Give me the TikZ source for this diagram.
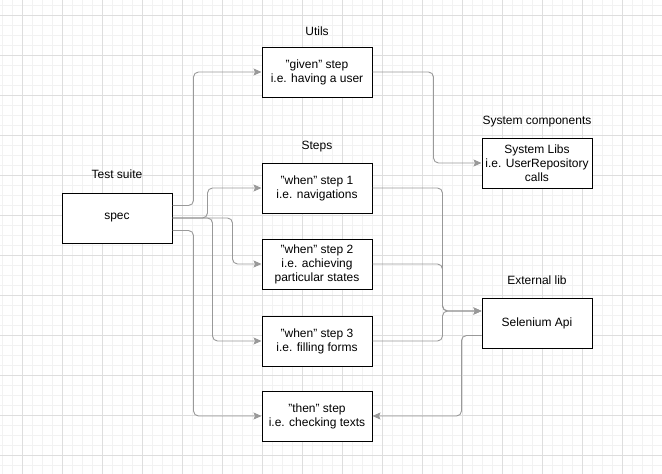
\documentclass[tikz,border=0pt]{standalone}
\usepackage{fontspec}
\setmainfont{Liberation Sans}
\usetikzlibrary{arrows.meta}
\definecolor{conncol}{RGB}{153,153,153}
\definecolor{gridmajor}{RGB}{222,222,222}
\definecolor{gridminor}{RGB}{242,242,242}
\tikzset{
  box/.style={draw=black, line width=1pt, fill=white, minimum width=110pt, minimum height=50pt,
    inner sep=0pt, align=center, font=\fontsize{12pt}{14pt}\selectfont},
  lbl/.style={inner sep=0pt, font=\fontsize{12pt}{14pt}\selectfont},
  conn/.style={draw=conncol, line width=0.9pt, rounded corners=5pt,
    -{Stealth[length=8pt,width=7pt,inset=1.5pt]}},
  gmin/.style={draw=gridminor, line width=0.6pt},
  gmaj/.style={draw=gridmajor, line width=0.8pt}
}
\begin{document}
\begin{tikzpicture}[x=1pt,y=-1pt]
\useasboundingbox (0,0) rectangle (662,474);
\fill[white] (0,0) rectangle (662,474);
\foreach \x in {2,12,...,662} \draw[gmin] (\x,0) -- (\x,474);
\foreach \y in {5,15,...,474} \draw[gmin] (0,\y) -- (662,\y);
\foreach \x in {22,62,...,662} \draw[gmaj] (\x,0) -- (\x,474);
\foreach \y in {15,55,...,474} \draw[gmaj] (0,\y) -- (662,\y);

\node[box] (spec) at (117,218) {spec};
\node[box] (given) at (317,72) {"given" step\\i.e. having a user};
\node[box] (w1) at (317,188) {"when" step 1\\i.e. navigations};
\node[box] (w2) at (317,264) {"when" step 2\\i.e. achieving\\particular states};
\node[box] (w3) at (317,341) {"when" step 3\\i.e. filling forms};
\node[box] (then) at (317,416) {"then" step\\i.e. checking texts};
\node[box] (sys) at (537,163) {System Libs\\i.e. UserRepository\\calls};
\node[box] (sel) at (537,323) {Selenium Api};

\node[lbl] (lsuite) at (117,174) {Test suite};
\node[lbl] (lutils) at (317,31) {Utils};
\node[lbl] (lsteps) at (317,147) {Steps};
\node[lbl] (lsys) at (537,122) {System components};
\node[lbl] (lext) at (537,280) {External lib};

\draw[conn] ([yshift=12.5pt]spec.east) -- ++(21,0) |- (given.west);
\draw[conn] (spec.east) -- ++(35,0) |- (w1.west);
\draw[conn] (spec.east) -- ++(60,0) |- (w2.west);
\draw[conn] (spec.east) -- ++(40,0) |- (w3.west);
\draw[conn] ([yshift=-12.5pt]spec.east) -- ++(21,0) |- (then.west);
\draw[conn] (given.east) -- ++(61,0) |- (sys.west);
\draw[conn] (w1.east) -- ++(70,0) |- ([yshift=12pt]sel.west);
\draw[conn] (w2.east) -- ++(70,0) |- ([yshift=12pt]sel.west);
\draw[conn] (w3.east) -- ++(70,0) |- ([yshift=12pt]sel.west);
\draw[conn] ([yshift=-12.5pt]sel.west) -- ++(-20,0) |- (then.east);
\end{tikzpicture}
\end{document}
